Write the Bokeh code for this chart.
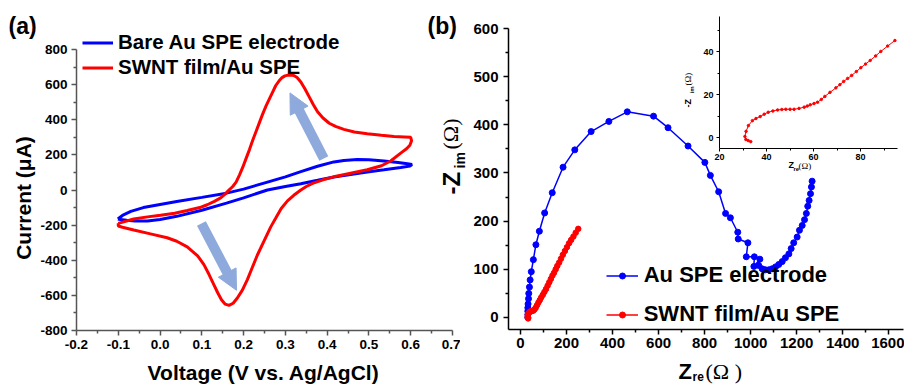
import math
from bokeh.plotting import figure
from bokeh.models import (GridBox, Label, Arrow, NormalHead, Legend, LegendItem,
                          Range1d, FixedTicker, ColumnDataSource)
from bokeh.embed import file_html
from bokeh.resources import INLINE

FONT = "Liberation Sans"
SERIF = "Liberation Serif"
BLUE = "#0000FF"
RED = "#FF0000"
ARROW_COLOR = "#8EA9DB"

# ---------------- data: panel (a) cyclic voltammetry ----------------
cv_bare_v = [-0.101, -0.090, -0.070, -0.040, 0.000, 0.040, 0.100, 0.159, 0.200, 0.257,
             0.300, 0.337, 0.377, 0.416, 0.440, 0.472, 0.500, 0.536, 0.570, 0.592,
             0.603, 0.598, 0.576, 0.536, 0.496, 0.456, 0.416, 0.377, 0.337, 0.300,
             0.257, 0.200, 0.159, 0.100, 0.040, 0.000, -0.030, -0.060, -0.080, -0.095,
             -0.101]
cv_bare_i = [-165, -145, -122, -100, -82, -66, -42, -18, 5, 45,
             75, 105, 135, 160, 168, 173, 172, 165, 157, 150,
             145, 136, 128, 115, 103, 88, 74, 55, 36, 20,
             0, -45, -75, -115, -150, -168, -177, -176, -172, -168,
             -165]

cv_swnt_v = [-0.100, -0.063, -0.030, 0.001, 0.035, 0.065, 0.095, 0.113, 0.130, 0.145,
             0.155, 0.163, 0.174, 0.182, 0.190, 0.198, 0.206, 0.214, 0.222, 0.230,
             0.238, 0.246, 0.254, 0.262, 0.270, 0.277, 0.285, 0.292, 0.299, 0.306,
             0.313, 0.320, 0.328, 0.337, 0.347, 0.357, 0.367, 0.377, 0.390, 0.405,
             0.420, 0.440, 0.465, 0.496, 0.530, 0.560, 0.585, 0.600, 0.602, 0.598,
             0.590, 0.576, 0.552, 0.530, 0.496, 0.456, 0.416, 0.390, 0.365, 0.350,
             0.337, 0.320, 0.305, 0.290, 0.277, 0.265, 0.249, 0.233, 0.221, 0.209,
             0.197, 0.185, 0.175, 0.165, 0.156, 0.147, 0.138, 0.129, 0.117, 0.105,
             0.090, 0.065, 0.040, 0.017, -0.023, -0.063, -0.090, -0.100, -0.100]
cv_swnt_i = [-190, -165, -153, -144, -132, -117, -100, -84, -65, -45,
             -25, -5, 20, 45, 85, 130, 180, 230, 285, 335,
             385, 435, 480, 520, 560, 595, 622, 640, 650, 654,
             655, 652, 640, 615, 575, 530, 485, 445, 410, 380,
             362, 345, 330, 320, 312, 305, 302, 300, 280, 255,
             235, 210, 165, 138, 115, 95, 75, 58, 38, 20,
             0, -30, -62, -105, -160, -210, -290, -370, -440, -510,
             -570, -615, -645, -657, -650, -625, -585, -540, -480, -425,
             -375, -324, -292, -272, -250, -228, -212, -205, -190]

cv_x_ticks = [-0.2, -0.1, 0.0, 0.1, 0.2, 0.3, 0.4, 0.5, 0.6, 0.7]
cv_x_minor = [-0.15, -0.05, 0.05, 0.15, 0.25, 0.35, 0.45, 0.55, 0.65]
cv_y_ticks = [-800, -600, -400, -200, 0, 200, 400, 600, 800]
cv_y_minor = [-700, -500, -300, -100, 100, 300, 500, 700]

# arrows (tail -> tip) in data units of panel (a)
arrow_tail_v = [0.392, 0.099]
arrow_tail_i = [179, -191]
arrow_tip_v = [0.311, 0.183]
arrow_tip_i = [553, -571]

# ---------------- data: panel (b) impedance (Nyquist) ----------------
eis_bare_zre = [32, 32, 32, 32, 33, 35, 36, 39, 42, 47, 56, 67, 82, 105, 138, 185, 236, 307,
                384, 464, 578, 641, 728, 801, 825, 861, 891, 912, 944, 946, 988, 981, 1016,
                1014, 1040, 1035, 1050, 1064, 1079, 1093, 1108, 1122, 1137, 1151, 1166, 1176,
                1187, 1202, 1212, 1224, 1234, 1242, 1248, 1254, 1260, 1264, 1267]
eis_bare_zim = [0, 6, 13, 20, 28, 39, 50, 63, 78, 95, 120, 151, 179, 217, 259, 312, 348, 386,
                407, 427, 418, 394, 356, 322, 295, 261, 216, 207, 177, 163, 155, 126, 126,
                106, 121, 108, 101, 99, 99, 101, 105, 110, 116, 124, 132, 143,
                155, 167, 181, 191, 203, 216, 231, 243, 257, 271, 283]

eis_swnt_zre = [33.5, 31, 32, 34, 37, 41, 45, 50, 56, 61, 66, 72, 78, 84, 90, 97, 104, 111,
                118, 125, 132, 139, 146, 153, 160, 168, 176, 184, 193, 202, 211, 220, 230,
                240, 251]
eis_swnt_zim = [-2, 0.5, 5.5, 8, 10, 12, 13, 13.3, 14.2, 16.5, 20, 25.5, 31, 36, 41.5, 47, 53,
                59, 66, 73, 80, 87, 93, 100, 107, 114, 122, 130, 138, 146, 154, 161, 168,
                176, 184]

inset_zre = [33.3, 32.2, 31.2, 30.8, 31.3, 32.3, 34.0, 35.5, 37.3, 39.0, 40.7, 42.7, 44.7,
             46.5, 48.2, 50.0, 51.7, 53.8, 56.0, 57.3, 58.6, 60.2, 61.7, 63.3, 64.8, 67.0,
             69.5, 71.2, 72.8, 74.5, 76.2, 78.2, 80.1, 82.1, 84.1, 86.4, 88.6, 91.5, 94.6]
inset_zim = [-1.9, -1.4, -0.9, 0.5, 2.9, 5.6, 7.9, 8.9, 9.8, 10.9, 11.8, 12.4, 12.9,
             13.1, 13.2, 13.2, 13.2, 13.6, 14.2, 14.7, 15.3, 15.9, 16.5, 17.8, 19.2, 21.1,
             23.2, 24.7, 26.2, 27.6, 29.0, 30.8, 32.6, 34.3, 36.0, 38.1, 40.2, 42.7, 45.3]

eis_x_ticks = [0, 200, 400, 600, 800, 1000, 1200, 1400, 1600]
eis_x_minor = [100, 300, 500, 700, 900, 1100, 1300, 1500]
eis_y_ticks = [0, 100, 200, 300, 400, 500, 600]
eis_y_minor = [50, 150, 250, 350, 450, 550]
inset_x_ticks = [20, 40, 60, 80]
inset_x_minor = [30, 50, 70, 90]
inset_y_ticks = [0, 20, 40]
inset_y_minor = [10, 30, 50]

# ---------------- layout geometry (page pixels) ----------------
W, H = 904, 385
A_W, B_W, I_W, I_H = 460, 484, 228, 180
A_FRAME = (76, 452, 49, 330)        # left, right, top(of axis), bottom on the page
A_PX_PER_I = (A_FRAME[3] - A_FRAME[2]) / 1600.0
A_X = (-0.2, 0.7)
A_Y = (-800, 800 + A_FRAME[2] / A_PX_PER_I)   # frame extended up to the top of canvas
B_X, B_Y = (-52, 1664), (-25, 600)
I_X, I_Y = (20, 95.7), (-5.1, 56.5)


def style_axis(ax, color, width, tick_out, minor_out, size, standoff):
    ax.axis_line_color = color
    ax.axis_line_width = width
    ax.major_tick_line_color = color
    ax.major_tick_line_width = width
    ax.minor_tick_line_color = color
    ax.minor_tick_line_width = width
    ax.major_tick_in = 0
    ax.major_tick_out = tick_out
    ax.minor_tick_in = 0
    ax.minor_tick_out = minor_out
    ax.major_label_text_font = FONT
    ax.major_label_text_font_style = "bold"
    ax.major_label_text_font_size = size
    ax.major_label_text_color = "black"
    ax.major_label_standoff = standoff


def base_fig(width, height, xr, yr, borders, fill, axes=True):
    kw = {}
    if not axes:
        kw = dict(x_axis_location=None, y_axis_location=None)
    p = figure(width=width, height=height, x_range=Range1d(*xr), y_range=Range1d(*yr),
               output_backend="svg", toolbar_location=None, tools="", title_location=None,
               min_border_left=borders[0], min_border_right=borders[1],
               min_border_top=borders[2], min_border_bottom=borders[3], **kw)
    p.xgrid.visible = False
    p.ygrid.visible = False
    p.outline_line_color = None
    p.background_fill_color = None
    p.border_fill_color = fill
    return p


# ---------------- panel (a) ----------------
pa = base_fig(A_W, H, A_X, A_Y, (A_FRAME[0], A_W - A_FRAME[1], 0, H - A_FRAME[3]), "white")
pa.xaxis.ticker = FixedTicker(ticks=cv_x_ticks, minor_ticks=cv_x_minor)
pa.yaxis.ticker = FixedTicker(ticks=cv_y_ticks, minor_ticks=cv_y_minor)
pa.yaxis.bounds = (-800, 800)
pa.xaxis.major_label_overrides = {t: f"{t:.1f}" for t in cv_x_ticks}
pa.yaxis.major_label_overrides = {t: f"{t}" for t in cv_y_ticks}
style_axis(pa.xaxis[0], "#555555", 1.5, 5, 3, "13.5px", 4)
style_axis(pa.yaxis[0], "#555555", 1.5, 5, 3, "13.5px", 4)

# arrows: shaft as segments, head as Arrow annotation
px_per_v = (A_FRAME[1] - A_FRAME[0]) / (A_X[1] - A_X[0])
HEAD = 20
base_v, base_i = [], []
for tv, ti, hv, hi in zip(arrow_tail_v, arrow_tail_i, arrow_tip_v, arrow_tip_i):
    L = math.hypot((hv - tv) * px_per_v, (hi - ti) * A_PX_PER_I)
    f = (L - HEAD + 2) / L
    base_v.append(tv + f * (hv - tv))
    base_i.append(ti + f * (hi - ti))
pa.segment(x0=arrow_tail_v, y0=arrow_tail_i, x1=base_v, y1=base_i,
           line_color=ARROW_COLOR, line_width=10, line_cap="butt")
arrow_src = ColumnDataSource(dict(xs=base_v, ys=base_i, xe=arrow_tip_v, ye=arrow_tip_i))
pa.add_layout(Arrow(end=NormalHead(size=HEAD, fill_color=ARROW_COLOR, line_color=ARROW_COLOR,
                                   line_width=1),
                    x_start="xs", y_start="ys", x_end="xe", y_end="ye", source=arrow_src,
                    line_alpha=0, level="glyph"))

r_bare = pa.line(cv_bare_v, cv_bare_i, line_color=BLUE, line_width=3)
r_swnt = pa.line(cv_swnt_v, cv_swnt_i, line_color=RED, line_width=3)


def style_legend(lg, gw, gh, lh, spacing, standoff, size):
    lg.border_line_color = None
    lg.background_fill_alpha = 0
    lg.padding = 0
    lg.margin = 0
    lg.spacing = spacing
    lg.glyph_width = gw
    lg.glyph_height = gh
    lg.label_height = lh
    lg.label_standoff = standoff
    lg.label_text_font = FONT
    lg.label_text_font_style = "bold"
    lg.label_text_font_size = size
    lg.label_text_color = "black"
    lg.label_text_baseline = "middle"


# legend location = bottom-left corner, measured from the frame's bottom-left
leg_a = Legend(items=[LegendItem(label="Bare Au SPE electrode", renderers=[r_bare]),
                      LegendItem(label="SWNT film/Au SPE", renderers=[r_swnt])],
               location=(82 - A_FRAME[0], A_FRAME[3] - 79.5))
style_legend(leg_a, 31, 25, 25, 0, 5, "20.5px")
pa.add_layout(leg_a)

# ---------------- panel (b) ----------------
B_LEFT = W - B_W
pb = base_fig(B_W, H, B_X, B_Y, (508 - B_LEFT, 1, 28, H - 329), None)
pb.xaxis.ticker = FixedTicker(ticks=eis_x_ticks, minor_ticks=eis_x_minor)
pb.yaxis.ticker = FixedTicker(ticks=eis_y_ticks, minor_ticks=eis_y_minor)
style_axis(pb.xaxis[0], "black", 1.5, 5, 3, "15px", 3)
style_axis(pb.yaxis[0], "black", 1.5, 5, 3, "15px", 5)

lb = pb.line(eis_bare_zre, eis_bare_zim, line_color=BLUE, line_width=1.5)
cb = pb.scatter(eis_bare_zre, eis_bare_zim, size=6, fill_color=BLUE, line_color=BLUE)
ls = pb.line(eis_swnt_zre, eis_swnt_zim, line_color=RED, line_width=1.5)
cs = pb.scatter(eis_swnt_zre, eis_swnt_zim, size=5.5, fill_color=RED, line_color=RED)

leg_b = Legend(items=[LegendItem(label="Au SPE electrode", renderers=[lb, cb]),
                      LegendItem(label="SWNT film/Au SPE", renderers=[ls, cs])],
               location=(605.7 - 508, 2))
style_legend(leg_b, 32, 15, 15, 13, 6, "22px")
pb.add_layout(leg_b)

# ---------------- inset ----------------
I_LEFT = W - I_W
pi_ = base_fig(I_W, I_H, I_X, I_Y, (719 - I_LEFT, W - 897, 16, I_H - 148), None)
pi_.xaxis.ticker = FixedTicker(ticks=inset_x_ticks, minor_ticks=inset_x_minor)
pi_.yaxis.ticker = FixedTicker(ticks=inset_y_ticks, minor_ticks=inset_y_minor)
style_axis(pi_.xaxis[0], "black", 1, 3, 2, "9px", 2)
style_axis(pi_.yaxis[0], "black", 1, 3, 2, "9px", 3)
pi_.line(inset_zre, inset_zim, line_color=RED, line_width=1)
pi_.scatter(inset_zre, inset_zim, size=2.5, fill_color=RED, line_color=RED)

# ---------------- text overlay (page-pixel coordinates, y downward) ----------------
ov = base_fig(W, H, (0, W), (H, 0), (0, 0, 0, 0), None, axes=False)


def txt(x, y, text, fs, bold=True, font=FONT, rotated=False, align="left"):
    """(x, y) is the baseline point; the label is anchored at its vertical middle."""
    shift = 0.36 * fs
    if rotated:
        x, angle = x - shift, math.pi / 2
    else:
        y, angle = y - shift, 0.0
    ov.add_layout(Label(x=x, y=y, text=text, angle=angle, text_font=font,
                        text_font_size=f"{fs}px",
                        text_font_style="bold" if bold else "normal",
                        text_align=align, text_baseline="middle", text_color="black"))


txt(8, 34, "(a)", 23)
txt(427, 34, "(b)", 23)
txt(31, 197.5, "Current (\u03bcA)", 21, rotated=True, align="center")
txt(263, 380, "Voltage (V vs. Ag/AgCl)", 21, align="center")
# -Z_im (Ohm)
txt(460, 194, "-Z", 24, rotated=True)
txt(465, 168, "im", 14, rotated=True)
txt(458, 149, "(\u03a9)", 22, bold=False, font=SERIF, rotated=True)
# Z_re (Ohm)
txt(678, 379, "Z", 22)
txt(692, 381, "re", 12)
txt(705, 379, "(\u03a9 )", 22, bold=False, font=SERIF)
# inset titles
txt(788, 168, "Z", 9)
txt(793, 171, "re", 6)
txt(798, 169, "(\u03a9)", 9, bold=False, font=SERIF)
txt(691, 107, "-Z", 9, rotated=True)
txt(694, 93, "im", 6, rotated=True)
txt(691, 85, "(\u03a9)", 9, bold=False, font=SERIF, rotated=True)

# Grid: every figure starts and ends on its own grid line (zero-size tracks in
# between) so that Bokeh does not align the frames of the overlapping figures.
col_tracks = [0, B_LEFT, A_W - B_LEFT, I_LEFT - A_W, I_W, 0, 0]
row_tracks = [0, 0, 0, I_H, H - I_H, 0, 0, 0]
grid = GridBox(children=[(pa, 1, 1, 6, 2),      # rows 1..6, cols 1..2
                         (pb, 2, 2, 4, 4),      # rows 2..5, cols 2..5
                         (pi_, 3, 4, 1, 1),     # row 3, col 4
                         (ov, 0, 0, 8, 7)],     # everything
               rows=[f"{r}px" for r in row_tracks],
               cols=[f"{c}px" for c in col_tracks],
               spacing=0)

open("out.html", "w").write(file_html(grid, INLINE))
